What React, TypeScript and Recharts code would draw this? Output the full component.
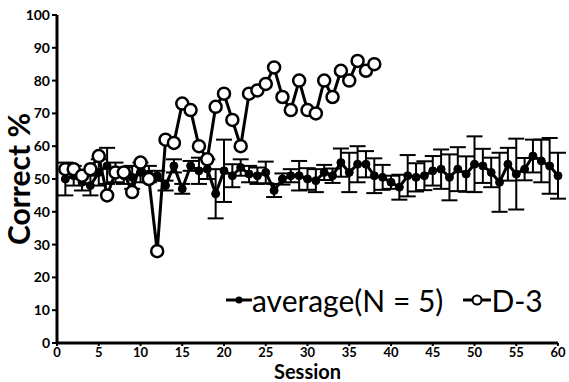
import React from 'react';
import { ComposedChart, Line, XAxis, YAxis, ErrorBar, Legend } from 'recharts';

const sessions = [
  1, 2, 3, 4, 5, 6, 7, 8, 9, 10, 11, 12, 13, 14, 15, 16, 17, 18, 19, 20,
  21, 22, 23, 24, 25, 26, 27, 28, 29, 30, 31, 32, 33, 34, 35, 36, 37, 38, 39, 40,
  41, 42, 43, 44, 45, 46, 47, 48, 49, 50, 51, 52, 53, 54, 55, 56, 57, 58, 59, 60,
];

const averageValues = [
  50, 51, 49, 48, 52, 54, 52, 51, 50.5, 52, 51.5, 51, 48, 54, 47, 54, 52.5, 53, 45.5, 52.5,
  51, 53.5, 51.5, 51, 52, 46.5, 50, 51, 51, 50, 49.5, 52, 51, 55, 52, 54.5, 54.5, 51, 50.5, 49,
  47.5, 51, 50.5, 51, 52.5, 53, 50.5, 53, 51.5, 54.5, 54, 52, 49, 54.5, 51.5, 53, 57, 55.5, 54, 51,
];

const averageErrors = [
  5, 3, 2.5, 3, 4, 5.5, 3, 2.5, 3.5, 3, 2.5, 1.5, 1.5, 2, 1.5, 1.5, 4, 3, 7.5, 9.5,
  3.5, 2.5, 2.5, 2.5, 3.3, 2, 1.7, 2, 4.5, 3.3, 3.5, 2.3, 2.2, 4.3, 6, 5.5, 4, 5.3, 3.8, 2,
  3.8, 6.3, 4.3, 4.4, 4.5, 6, 7, 6.7, 5.4, 8.5, 5.2, 4.5, 9, 5, 10.8, 3.4, 5, 6.5, 8.5, 7,
];

const d3Values = [
  53, 53, 51, 53, 57, 45, 52, 52, 46, 55, 50, 28, 62, 61, 73, 71, 60, 56, 72, 76,
  68, 60, 76, 77, 79, 84, 75, 71, 80, 71, 70, 80, 75, 83, 80, 86, 83, 85,
];

const xTicks = [0, 5, 10, 15, 20, 25, 30, 35, 40, 45, 50, 55, 60];
const yTicks = [0, 10, 20, 30, 40, 50, 60, 70, 80, 90, 100];

const seriesNames = ['average(N = 5)', 'D-3'];

const data = sessions.map((s, i) => ({
  session: s,
  avg: averageValues[i],
  err: averageErrors[i],
  d3: i < d3Values.length ? d3Values[i] : null,
}));

const FONT = 'Lato, "Open Sans", sans-serif';

const yTickStyle = { fontFamily: FONT, fontWeight: 700, fontSize: 14, fill: '#000' };
const xTickStyle = { fontFamily: FONT, fontWeight: 700, fontSize: 13, fill: '#000' };

const renderLegend = () => (
  <div style={{ display: 'flex', alignItems: 'center', fontFamily: FONT, fontSize: 30, color: '#000', whiteSpace: 'nowrap', lineHeight: '34px' }}>
    <svg width={26} height={20}>
      <line x1={0} y1={10} x2={26} y2={10} stroke="#000" strokeWidth={3} />
      <circle cx={13} cy={10} r={3.5} fill="#000" />
    </svg>
    <span>{seriesNames[0]}</span>
    <svg width={28} height={20} style={{ marginLeft: 20 }}>
      <line x1={0} y1={10} x2={28} y2={10} stroke="#000" strokeWidth={3} />
      <circle cx={14} cy={10} r={4.5} fill="#fff" stroke="#000" strokeWidth={2} />
    </svg>
    <span>{seriesNames[1]}</span>
  </div>
);

export default function App() {
  return (
    <div style={{ position: 'absolute', left: 0, top: 0, background: '#fff' }}>
      <ComposedChart
        width={569}
        height={382}
        data={data}
        margin={{ top: 15, right: 11, left: 0, bottom: 0 }}
      >
        <XAxis
          dataKey="session"
          type="number"
          domain={[0, 60]}
          ticks={xTicks}
          interval={0}
          height={39}
          axisLine={{ stroke: '#000', strokeWidth: 3 }}
          tickLine={{ stroke: '#000', strokeWidth: 2 }}
          tickSize={3}
          tick={xTickStyle}
          label={{
            value: 'Session',
            position: 'center',
            dy: 9,
            style: { fontFamily: FONT, fontWeight: 700, fontSize: 20, fill: '#000' },
          }}
        />
        <YAxis
          type="number"
          domain={[0, 100]}
          ticks={yTicks}
          interval={0}
          width={57}
          axisLine={{ stroke: '#000', strokeWidth: 3 }}
          tickLine={{ stroke: '#000', strokeWidth: 2 }}
          tickSize={5}
          tick={yTickStyle}
          label={{
            value: 'Correct %',
            angle: -90,
            position: 'center',
            dx: -9,
            style: { fontFamily: FONT, fontWeight: 700, fontSize: 30, fill: '#000', textAnchor: 'middle' },
          }}
        />
        <Legend
          layout="horizontal"
          verticalAlign="middle"
          align="center"
          content={renderLegend}
          wrapperStyle={{ top: 283, left: 226, width: 'auto' }}
        />
        <Line
          dataKey="avg"
          name={seriesNames[0]}
          stroke="#000"
          strokeWidth={3}
          dot={{ r: 4, fill: '#000', stroke: '#000', strokeWidth: 1 }}
          activeDot={false}
          isAnimationActive={false}
        >
          <ErrorBar dataKey="err" width={8} strokeWidth={2} stroke="#000" direction="y" />
        </Line>
        <Line
          dataKey="d3"
          name={seriesNames[1]}
          stroke="#000"
          strokeWidth={3}
          dot={{ r: 6, fill: '#fff', stroke: '#000', strokeWidth: 2.5 }}
          activeDot={false}
          isAnimationActive={false}
        />
      </ComposedChart>
    </div>
  );
}
